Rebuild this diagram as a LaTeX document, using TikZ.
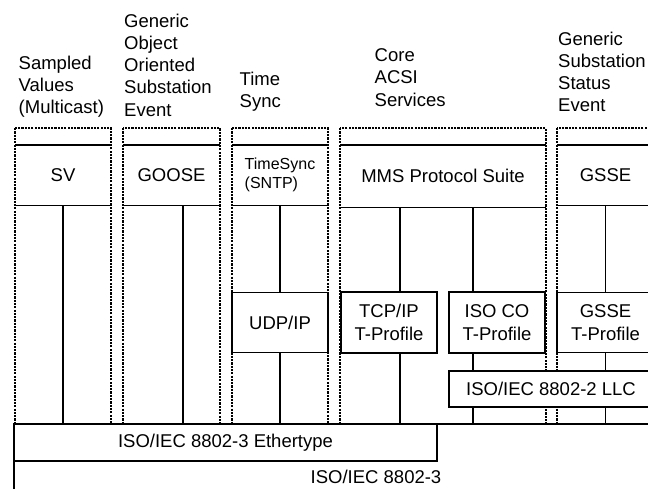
\documentclass[tikz,border=0pt]{standalone}
\usepackage{fontspec}
\setmainfont{Liberation Sans}
\begin{document}
\begin{tikzpicture}[x=1pt,y=-1pt,
  dotcol/.style={line width=2pt, dash pattern=on 2.2pt off 1.1pt},
  edge/.style={line width=1.4pt},
  bigfont/.style={font=\fontsize{18.5}{22.25}\selectfont},
  topbox/.style={inner sep=0pt, bigfont, align=center},
  midbox/.style={draw, fill=white, line width=1.4pt, inner sep=0pt, bigfont, align=center},
  lbl/.style={anchor=north west, inner sep=0pt, align=left, bigfont}]
\useasboundingbox (0,0) rectangle (648,488);
\clip (0,0) rectangle (648,488);

% column labels
\node[lbl] (lsv) at (18.5,55.5) {Sampled\\Values\\(Multicast)};
\node[lbl] (lgoose) at (124,13.5) {Generic\\Object\\Oriented\\Substation\\Event};
\node[lbl] (lts) at (239.5,71.5) {Time\\Sync};
\node[lbl] (lacsi) at (374.5,48.5) {Core\\ACSI\\Services};
\node[lbl] (lgsse) at (558,31.5) {Generic\\Substation\\Status\\Event};

% top service boxes
\node[topbox, minimum width=96pt, minimum height=60pt] (sv) at (63,175) {SV};
\node[topbox, minimum width=97pt, minimum height=60pt] (goose) at (171.5,175) {GOOSE};
\node[topbox, minimum width=96pt, minimum height=60pt, align=left, font=\fontsize{16}{18.8}\selectfont] (ts) at (280,175) {TimeSync\\(SNTP)};
\node[topbox, minimum width=206pt, minimum height=62pt] (mms) at (443,176) {MMS Protocol Suite};
\node[topbox, minimum width=97pt, minimum height=60pt] (gsse) at (605.5,175) {GSSE};
\foreach \n in {sv,goose,ts,mms,gsse}{
  \draw[edge] (\n.north west) -- (\n.north east);
  \draw[edge] (\n.south west) -- (\n.south east);
}

% dotted columns
\draw[dotcol] (15,128) rectangle (111,424);
\draw[dotcol] (123,128) rectangle (220,424);
\draw[dotcol] (232,128) rectangle (328,424);
\draw[dotcol] (340,128) rectangle (546,424);
\draw[dotcol] (557,128) rectangle (654,424);

% transport boxes
\node[midbox, minimum width=96pt, minimum height=60pt] (udp) at (280,322.5) {UDP/IP};
\node[midbox, minimum width=96pt, minimum height=61pt] (tcp) at (389,322.5) {TCP/IP\\T-Profile};
\node[midbox, minimum width=96pt, minimum height=61pt] (isoco) at (497,322.5) {ISO CO\\T-Profile};
\node[midbox, minimum width=97pt, minimum height=60pt] (gssetp) at (605.5,322.5) {GSSE\\T-Profile};
\node[midbox, minimum width=204pt, minimum height=36pt] (llc) at (551,389) {ISO/IEC 8802-2 LLC};

% link layer boxes
\node[midbox, minimum width=724pt, minimum height=106pt] (base) at (376,477) {ISO/IEC 8802-3};
\node[midbox, minimum width=423pt, minimum height=37pt] (eth) at (225.5,442.5) {ISO/IEC 8802-3 Ethertype};

% connector x positions
\coordinate (gx) at (183,0);
\coordinate (m1) at (400,0);
\coordinate (m2) at (473,0);

% connectors
\draw[edge] (sv.south) -- (sv.south |- eth.north);
\draw[edge] (goose.south -| gx) -- (eth.north -| gx);
\draw[edge] (ts.south) -- (udp.north);
\draw[edge] (udp.south) -- (udp.south |- eth.north);
\draw[edge] (mms.south -| m1) -- (tcp.north -| m1);
\draw[edge] (tcp.south -| m1) -- (eth.north -| m1);
\draw[edge] (mms.south -| m2) -- (isoco.north -| m2);
\draw[edge] (isoco.south -| m2) -- (llc.north -| m2);
\draw[edge] (llc.south -| m2) -- (base.north -| m2);
\draw[edge] (gsse.south) -- (gssetp.north);
\draw[edge] (gssetp.south) -- (gssetp.south |- llc.north);
\draw[edge] (gssetp.south |- llc.south) -- (gssetp.south |- base.north);
\end{tikzpicture}
\end{document}
